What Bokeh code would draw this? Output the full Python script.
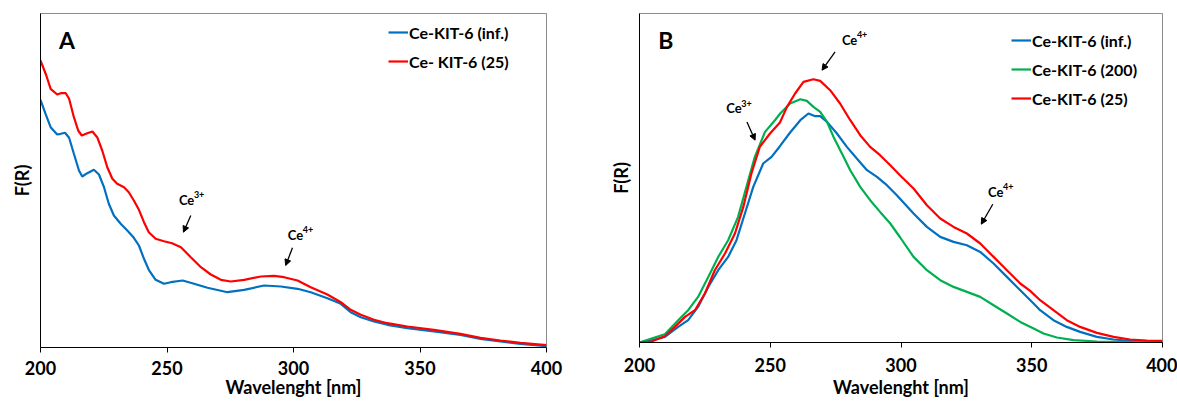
from bokeh.plotting import figure
from bokeh.layouts import row, column
from bokeh.models import (Range1d, FixedTicker, Label, Arrow, NormalHead, Legend,
                          LegendItem)
from bokeh.embed import file_html
from bokeh.resources import INLINE

FONT = "Lato"

# ---------------- Panel A data ----------------
a_inf_x = [200, 202.0, 204.0, 206.6, 208.0, 209.7, 211.3, 213.2, 215.2, 216.5, 218.5, 221.1,
           223.1, 225.1, 227.0, 229.0, 231.7, 234.3, 236.9, 238.9, 240.9, 242.8, 245.5,
           248.8, 251.5, 254.7, 256.2, 260.7, 266.0, 273.9, 280.5, 288.4, 295.0, 301.6,
           306.8, 313.4, 318.7, 322.6, 326.6, 331.8, 337.1, 345.0, 355.5, 366.0, 373.9,
           381.8, 389.7, 400]
a_inf_y = [2.477, 2.337, 2.203, 2.13, 2.137, 2.147, 2.097, 1.937, 1.77, 1.71, 1.743, 1.777,
           1.73, 1.603, 1.437, 1.32, 1.237, 1.17, 1.097, 1.02, 0.887, 0.777, 0.677,
           0.637, 0.653, 0.665, 0.67, 0.637, 0.597, 0.553, 0.577, 0.62, 0.61, 0.587,
           0.553, 0.493, 0.437, 0.353, 0.303, 0.26, 0.227, 0.193, 0.16, 0.127, 0.087,
           0.06, 0.037, 0.013]

a_25_x = [200, 202.3, 204.0, 206.6, 208.0, 210.0, 211.3, 213.2, 214.9, 216.3, 218.5, 220.5,
          222.4, 224.4, 226.4, 228.4, 230.3, 233.0, 234.9, 236.9, 238.9, 240.9, 242.8,
          245.5, 248.8, 252.0, 255.5, 259.4, 263.4, 267.3, 271.3, 275.2, 280.5, 287.1,
          292.3, 296.3, 301.6, 306.8, 313.4, 318.7, 322.6, 326.6, 331.8, 337.1, 345.0,
          355.5, 366.0, 373.9, 381.8, 389.7, 400]
a_25_y = [2.87, 2.72, 2.587, 2.53, 2.543, 2.543, 2.487, 2.303, 2.17, 2.12, 2.143, 2.16,
          2.103, 1.97, 1.803, 1.687, 1.637, 1.603, 1.553, 1.47, 1.377, 1.253, 1.153,
          1.087, 1.063, 1.043, 1.003, 0.903, 0.803, 0.73, 0.677, 0.66, 0.677, 0.71,
          0.717, 0.703, 0.67, 0.603, 0.53, 0.453, 0.377, 0.327, 0.277, 0.243, 0.21,
          0.177, 0.137, 0.097, 0.07, 0.047, 0.023]

# ---------------- Panel B data ----------------
b_inf_x = [200, 204.6, 209.7, 214.8, 218.6, 222.4, 226.3, 230.1, 233.9, 237.1, 240.3, 243.5,
           247.3, 250.5, 253.7, 257.6, 261.5, 264.6, 267.2, 269.1, 271.7, 275.5, 279.3,
           283.1, 287.0, 290.8, 294.6, 298.4, 302.0, 304.8, 309.9, 315.0, 320.1, 325.2,
           330.3, 335.4, 340.5, 345.6, 350.7, 353.2, 358.3, 363.4, 368.5, 374.9, 381.3,
           387.6, 400]
b_inf_y = [0, 0.023, 0.056, 0.156, 0.223, 0.356, 0.556, 0.723, 0.856, 1.023, 1.29, 1.556,
           1.79, 1.856, 1.963, 2.1, 2.223, 2.29, 2.263, 2.263, 2.206, 2.09, 1.956,
           1.84, 1.723, 1.656, 1.573, 1.473, 1.37, 1.29, 1.156, 1.056, 1.006, 0.973,
           0.906, 0.79, 0.656, 0.523, 0.39, 0.323, 0.223, 0.156, 0.106, 0.056, 0.03,
           0.016, 0.01]

b_200_x = [200, 204.6, 209.7, 214.8, 218.6, 222.4, 226.3, 230.1, 233.9, 237.7, 240.9, 244.1,
           248.0, 251.8, 253.8, 257.6, 261.5, 264.0, 266.5, 269.1, 271.7, 274.2, 277.4,
           280.6, 284.4, 288.2, 292.0, 295.9, 299.7, 304.8, 309.9, 315.0, 320.1, 325.2,
           330.3, 335.4, 340.5, 345.6, 350.7, 354.5, 359.6, 366.0, 374.9, 400]
b_200_y = [0, 0.04, 0.083, 0.223, 0.323, 0.456, 0.656, 0.856, 1.023, 1.256, 1.556, 1.856,
           2.106, 2.223, 2.29, 2.39, 2.433, 2.416, 2.356, 2.306, 2.206, 2.056, 1.89,
           1.723, 1.556, 1.423, 1.306, 1.19, 1.05, 0.856, 0.723, 0.623, 0.556, 0.506,
           0.456, 0.373, 0.29, 0.206, 0.14, 0.09, 0.05, 0.023, 0.01, 0]

b_25_x = [200, 204.6, 209.7, 213.5, 217.4, 221.2, 225.0, 228.8, 232.7, 236.5, 239.7, 242.8,
          246.0, 249.9, 253.7, 256.4, 259.5, 262.7, 266.5, 269.1, 272.9, 276.7, 280.6,
          284.4, 288.2, 292.0, 295.9, 299.7, 304.8, 309.9, 315.0, 320.1, 325.2, 330.3,
          335.4, 340.5, 345.6, 349.4, 353.2, 358.3, 363.4, 368.5, 374.9, 381.3, 387.6,
          394.0, 400]
b_25_y = [0, 0.01, 0.063, 0.156, 0.256, 0.323, 0.49, 0.723, 0.89, 1.09, 1.356, 1.69,
          1.956, 2.09, 2.2, 2.356, 2.49, 2.606, 2.633, 2.616, 2.523, 2.39, 2.223,
          2.073, 1.956, 1.873, 1.773, 1.67, 1.54, 1.373, 1.24, 1.156, 1.09, 0.99,
          0.856, 0.723, 0.59, 0.516, 0.423, 0.323, 0.223, 0.156, 0.096, 0.056, 0.03,
          0.02, 0.016]

x_ticks = [200, 250, 300, 350, 400]

# annotation anchors (data units): text x, text y, arrow x0, y0, x1, y1, ion charge
a_ann = [(254.7, 1.48, 259.4, 1.32, 256.5, 1.153, "3+"),
         (297.7, 1.13, 299.6, 0.997, 296.9, 0.82, "4+")]
b_ann = [(277.4, 3.026, 274.8, 2.906, 269.8, 2.723, "4+"),
         (233.2, 2.343, 241.1, 2.206, 244.2, 2.023, "3+"),
         (333.3, 1.51, 335.1, 1.383, 330.7, 1.183, "4+")]

BLUE = "#0070C0"
RED = "#FF0000"
GREEN = "#00B050"


def make_fig(width, height, bl, br, bt, bb, ymax, s1, s2):
    p = figure(width=width, height=height, output_backend="svg", toolbar_location=None,
               x_range=Range1d(200, 400), y_range=Range1d(0, ymax),
               min_border_left=bl, min_border_right=br, min_border_top=bt,
               min_border_bottom=bb, background_fill_color="white",
               border_fill_color="white")
    p.grid.visible = False
    p.outline_line_color = "#8c8c8c"
    p.outline_line_width = 1
    xa = p.xaxis[0]
    xa.ticker = FixedTicker(ticks=x_ticks)
    xa.axis_label = "Wavelenght [nm]"
    xa.axis_line_color = "black"
    xa.major_tick_line_color = "black"
    xa.major_tick_out = 5
    xa.major_tick_in = 0
    xa.minor_tick_line_color = None
    xa.major_label_text_font = FONT
    xa.major_label_text_font_style = "bold"
    xa.major_label_text_font_size = "18px"
    xa.major_label_text_color = "black"
    xa.major_label_standoff = s1
    xa.axis_label_text_font = FONT
    xa.axis_label_text_font_style = "bold"
    xa.axis_label_text_font_size = "18px"
    xa.axis_label_text_color = "black"
    xa.axis_label_standoff = s2
    ya = p.yaxis[0]
    ya.ticker = FixedTicker(ticks=[])
    ya.axis_label = "F(R)"
    ya.axis_line_color = "black"
    ya.major_tick_line_color = None
    ya.minor_tick_line_color = None
    ya.major_tick_out = 0
    ya.major_label_text_font_size = "0px"
    ya.axis_label_text_font = FONT
    ya.axis_label_text_font_style = "bold"
    ya.axis_label_text_font_size = "18px"
    ya.axis_label_text_color = "black"
    ya.axis_label_standoff = 8
    return p


def add_ann(p, ann):
    for tx, ty, x0, y0, x1, y1, ch in ann:
        p.add_layout(Label(x=tx, y=ty, text="Ce", text_font=FONT, text_font_style="bold",
                           text_font_size="13px", text_color="black",
                           text_baseline="alphabetic"))
        p.add_layout(Label(x=tx, y=ty, text=ch, x_offset=15, y_offset=5, text_font=FONT,
                           text_font_style="bold", text_font_size="9px", text_color="black",
                           text_baseline="alphabetic"))
        p.add_layout(Arrow(end=NormalHead(size=6, fill_color="black", line_color="black"),
                           x_start=x0, y_start=y0, x_end=x1, y_end=y1,
                           line_color="black", line_width=1.3))


def style_legend(leg, spacing):
    leg.border_line_color = None
    leg.background_fill_alpha = 0
    leg.label_text_font = FONT
    leg.label_text_font_style = "bold"
    leg.label_text_font_size = "16px"
    leg.label_text_color = "black"
    leg.glyph_width = 20
    leg.glyph_height = 20
    leg.label_height = 20
    leg.spacing = spacing
    leg.padding = 0
    leg.margin = 0
    leg.label_standoff = 1


# ---------- Panel A ----------
pA = make_fig(590, 403, 40, 44, 13, 56, 3.34, 8, -2)
rA1 = pA.line(a_inf_x, a_inf_y, line_color=BLUE, line_width=2.2)
rA2 = pA.line(a_25_x, a_25_y, line_color=RED, line_width=2.2)
legA = Legend(items=[LegendItem(label="Ce-KIT-6 (inf.)", renderers=[rA1]),
                     LegendItem(label="Ce- KIT-6 (25)", renderers=[rA2])],
              location=(348, 276))
style_legend(legA, 9)
pA.add_layout(legA)
pA.add_layout(Label(x=207.3, y=3.077, text="A", text_font=FONT, text_font_style="bold",
                    text_font_size="23px", text_color="black", text_baseline="alphabetic"))
add_ann(pA, a_ann)

# ---------- Panel B ----------
pB = make_fig(587, 403, 49, 15, 13, 61, 3.29, 10, 1)
rB1 = pB.line(b_inf_x, b_inf_y, line_color=BLUE, line_width=2.2)
rB2 = pB.line(b_200_x, b_200_y, line_color=GREEN, line_width=2.2)
rB3 = pB.line(b_25_x, b_25_y, line_color=RED, line_width=2.2)
legB = Legend(items=[LegendItem(label="Ce-KIT-6 (inf.)", renderers=[rB1]),
                     LegendItem(label="Ce-KIT-6 (200)", renderers=[rB2]),
                     LegendItem(label="Ce-KIT-6 (25)", renderers=[rB3])],
              location=(372, 234))
style_legend(legB, 9)
pB.add_layout(legB)
pB.add_layout(Label(x=207.2, y=3.023, text="B", text_font=FONT, text_font_style="bold",
                    text_font_size="23px", text_color="black", text_baseline="alphabetic"))
add_ann(pB, b_ann)

layout = row(column(pA), column(pB))
open("out.html", "w").write(file_html(layout, INLINE))
